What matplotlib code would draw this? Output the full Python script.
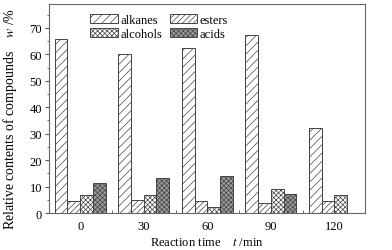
import numpy as np
import matplotlib.pyplot as plt

# === Data ===
times = ["0", "30", "60", "90", "120"]
alkanes = [65.7, 60.3, 62.4, 67.4, 32.0]
esters = [4.6, 5.0, 4.6, 3.7, 4.6]
alcohols = [6.9, 6.7, 2.4, 9.0, 6.9]
acids = [11.4, 13.4, 13.9, 7.1, 0.0]

# name, values, hatch, face colour
series = [("alkanes", alkanes, "////", "white"),
          ("esters", esters, "//////", "white"),
          ("alcohols", alcohols, "xxxxxxx", "white"),
          ("acids", acids, "xxxxxxx", "#9a9a9a")]

# === Style ===
plt.rcParams['font.family'] = ['Liberation Serif', 'DejaVu Serif']
plt.rcParams['mathtext.fontset'] = 'stix'
plt.rcParams['font.size'] = 9
plt.rcParams['hatch.linewidth'] = 0.5
plt.rcParams['hatch.color'] = '#333333'

fig = plt.figure(figsize=(3.92, 2.51), dpi=100)
ax = fig.add_axes([0.125, 0.147, 0.806, 0.833])

x = np.arange(len(times))
width = 0.2
offsets = np.array([-1.5, -0.5, 0.5, 1.5]) * width

handles = {}
for (name, vals, hatch, face), off in zip(series, offsets):
    vals = np.array(vals)
    mask = vals > 0
    handles[name] = ax.bar(x[mask] + off, vals[mask], width, color=face,
                           edgecolor='#444444', linewidth=0.7, hatch=hatch,
                           label=name)

ax.set_xlim(-0.49, 4.48)
ax.set_ylim(0, 79)
ax.set_xticks(x)
ax.set_xticklabels(times)
ax.set_xticks(x[:-1] + 0.5, minor=True)
ax.tick_params(axis='x', which='major', length=0, pad=5)
ax.tick_params(axis='x', which='minor', length=2, direction='in', color='#555555')
ax.set_yticks(np.arange(0, 71, 10))
ax.set_yticks(np.arange(5, 76, 5), minor=True)
ax.tick_params(axis='y', which='major', length=3, color='#555555', pad=2)
ax.tick_params(axis='y', which='minor', length=1.8, color='#555555')

for s in ax.spines.values():
    s.set_color('#666666')
    s.set_linewidth(0.8)

ax.set_xlabel("Reaction time    $t$ /min", labelpad=3)
ax.set_ylabel("Relative contents of compounds    $w$ /%", fontsize=10)
ax.yaxis.set_label_coords(-0.095, 0.457)

# matplotlib fills legend columns first, so order gives rows alkanes/esters, alcohols/acids
order = ["alkanes", "alcohols", "esters", "acids"]
ax.legend([handles[k] for k in order], order, ncol=2, frameon=False,
          loc='upper left', bbox_to_anchor=(0.115, 0.975),
          handlelength=2.2, handleheight=0.75, handletextpad=0.2,
          columnspacing=0.6, labelspacing=0.15, borderaxespad=0)

plt.savefig("out.png", dpi=100)
